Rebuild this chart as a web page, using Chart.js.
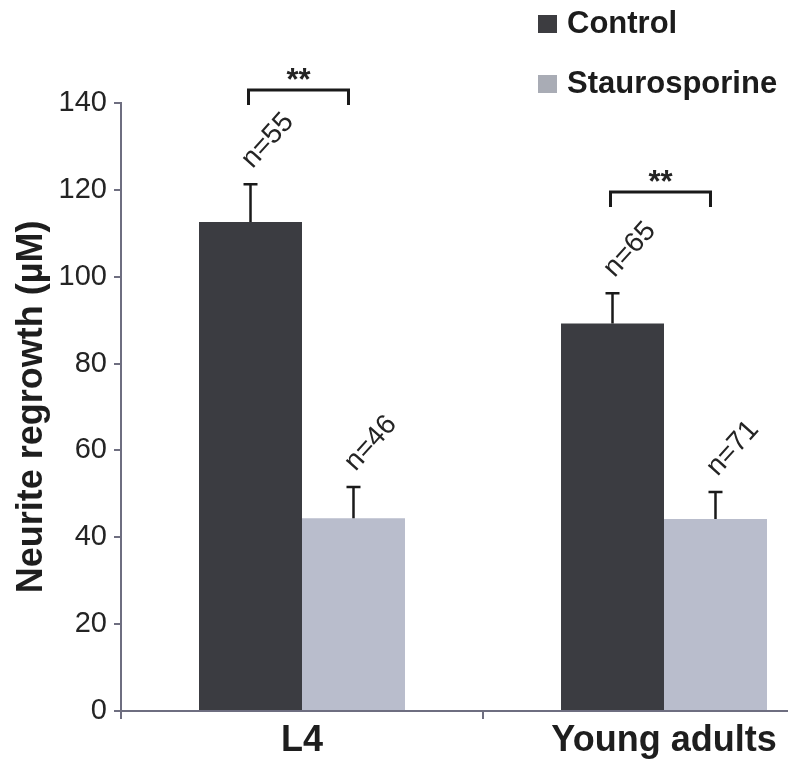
<!DOCTYPE html>
<html>
<head>
<meta charset="utf-8">
<script src="https://cdn.jsdelivr.net/npm/chart.js@4"></script>
<style>
  html, body { margin: 0; padding: 0; background: #fff; }
  #wrap { width: 788px; height: 761px; overflow: hidden; position: relative; }
</style>
</head>
<body>
<div id="wrap"><canvas id="regrowthChart" width="850" height="761"></canvas></div>
<script>
const categories = ['L4', 'Young adults'];
const seriesNames = ['Control', 'Staurosporine'];
const controlValues = [112.6, 89.2];
const stauroValues = [44.4, 44.2];
const controlErrTop = [121.3, 96.2];
const stauroErrTop = [51.6, 50.4];
const controlN = ['n=55', 'n=65'];
const stauroN = ['n=46', 'n=71'];
const bracketLevels = [143.0, 119.5];
const bracketMarks = ['**', '**'];

const axisColor = '#6e6e80';
const textColor = '#242424';
const barColors = ['#3b3c41', '#b9bdcc'];
const legendColors = ['#3c3c40', '#a9acb5'];

Chart.defaults.font.family = "'Liberation Sans', Arial, sans-serif";

const errTops = [controlErrTop, stauroErrTop];
const nLabels = [controlN, stauroN];

const annotations = {
    id: 'annotations',
    afterDatasetsDraw(chart) {
        const ctx = chart.ctx;
        const y = chart.scales.y;
        ctx.save();
        ctx.strokeStyle = '#1a1a1a';
        ctx.fillStyle = textColor;
        ctx.lineWidth = 2.5;
        chart.data.datasets.forEach((ds, d) => {
            const meta = chart.getDatasetMeta(d);
            meta.data.forEach((bar, i) => {
                const top = y.getPixelForValue(errTops[d][i]);
                ctx.beginPath();
                ctx.moveTo(bar.x, bar.y);
                ctx.lineTo(bar.x, top);
                ctx.moveTo(bar.x - 7, top);
                ctx.lineTo(bar.x + 7, top);
                ctx.stroke();

                ctx.save();
                ctx.translate(bar.x + 2, top - 15);
                ctx.rotate(-48 * Math.PI / 180);
                ctx.font = "28px 'Liberation Sans', Arial, sans-serif";
                ctx.textAlign = 'left';
                ctx.textBaseline = 'alphabetic';
                ctx.fillText(nLabels[d][i], 0, 0);
                ctx.restore();
            });
        });

        // significance brackets
        const m0 = chart.getDatasetMeta(0), m1 = chart.getDatasetMeta(1);
        ctx.lineWidth = 3;
        bracketLevels.forEach((lvl, i) => {
            const by = y.getPixelForValue(lvl);
            const x0 = m0.data[i].x - 2, x1 = m1.data[i].x - 5;
            ctx.beginPath();
            ctx.moveTo(x0, by + 15);
            ctx.lineTo(x0, by);
            ctx.lineTo(x1, by);
            ctx.lineTo(x1, by + 15);
            ctx.stroke();
            ctx.font = "bold 31px 'Liberation Sans', Arial, sans-serif";
            ctx.textAlign = 'center';
            ctx.textBaseline = 'alphabetic';
            ctx.fillText(bracketMarks[i], (x0 + x1) / 2, by);
        });

        // legend
        ctx.font = "bold 31px 'Liberation Sans', Arial, sans-serif";
        ctx.textAlign = 'left';
        seriesNames.forEach((name, i) => {
            const ly = 15 + i * 60;
            ctx.fillStyle = legendColors[i];
            ctx.fillRect(538, ly, 19, 18);
            ctx.fillStyle = '#1c1c1c';
            ctx.fillText(name, 567, ly + 18);
        });
        ctx.restore();
    }
};

new Chart(document.getElementById('regrowthChart'), {
    type: 'bar',
    data: {
        labels: categories,
        datasets: [
            { label: seriesNames[0], data: controlValues, backgroundColor: barColors[0] },
            { label: seriesNames[1], data: stauroValues, backgroundColor: barColors[1] }
        ]
    },
    options: {
        responsive: false,
        animation: false,
        devicePixelRatio: 1,
        layout: { padding: { top: 103, right: 5, bottom: 0, left: 0 } },
        datasets: { bar: { barPercentage: 1, categoryPercentage: 0.569, borderWidth: 0 } },
        plugins: { legend: { display: false }, tooltip: { enabled: false } },
        scales: {
            x: {
                grid: { drawOnChartArea: false, offset: true, tickLength: 8, color: axisColor, lineWidth: 2 },
                border: { color: axisColor, width: 2 },
                ticks: { font: { size: 36, weight: 'bold' }, color: '#1e1e1e', padding: 0 },
                afterFit: s => { s.height = 50; }
            },
            y: {
                min: 0,
                max: 140,
                ticks: { stepSize: 20, font: { size: 29 }, color: textColor, padding: 7 },
                grid: { drawOnChartArea: false, tickLength: 7, color: axisColor, lineWidth: 2 },
                border: { color: axisColor, width: 2 },
                title: {
                    display: true,
                    text: 'Neurite regrowth (µM)',
                    font: { size: 36, weight: 'bold' },
                    color: '#1e1e1e',
                    padding: { top: 10, bottom: 0 }
                },
                afterFit: s => { s.width = 121; }
            }
        }
    },
    plugins: [annotations]
});
</script>
</body>
</html>
